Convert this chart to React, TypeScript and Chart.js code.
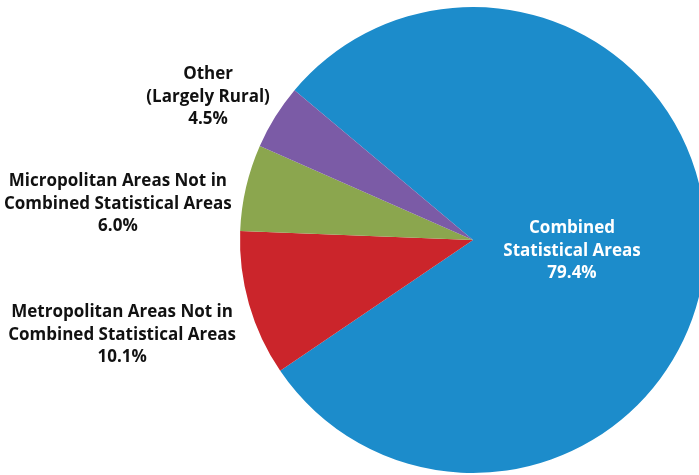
import React, { useEffect, useRef } from "react";
import { Chart, registerables } from "chart.js";

Chart.register(...registerables);

const categories = [
  "Combined Statistical Areas",
  "Metropolitan Areas Not in Combined Statistical Areas",
  "Micropolitan Areas Not in Combined Statistical Areas",
  "Other (Largely Rural)",
];
const shares = [79.4, 10.1, 6.0, 4.5];
const colors = ["#1C8CCB", "#CB252B", "#8BA64E", "#7B5BA6"];

const labelLines: string[][] = [
  ["Combined", "Statistical Areas", "79.4%"],
  ["Metropolitan Areas Not in", "Combined Statistical Areas", "10.1%"],
  ["Micropolitan Areas Not in", "Combined Statistical Areas", "6.0%"],
  ["Other", "(Largely Rural)", "4.5%"],
];
// label centre offsets relative to pie centre, in units of radius
const labelOffsets: [number, number][] = [
  [0.425, 0.047],
  [-1.506, 0.408],
  [-1.524, -0.155],
  [-1.137, -0.614],
];
const labelColors = ["#ffffff", "#111111", "#111111", "#111111"];

const labelPlugin = {
  id: "sliceLabels",
  afterDatasetsDraw(chart: any) {
    const meta = chart.getDatasetMeta(0);
    const arc = meta.data[0];
    if (!arc) return;
    const cx = arc.x;
    const cy = arc.y;
    const r = arc.outerRadius;
    const ctx = chart.ctx;
    ctx.save();
    ctx.font = "bold 17px 'Open Sans', sans-serif";
    ctx.textAlign = "center";
    ctx.textBaseline = "middle";
    const lh = 22.5;
    labelLines.forEach((lines, i) => {
      const x = cx + labelOffsets[i][0] * r;
      const y = cy + labelOffsets[i][1] * r;
      ctx.fillStyle = labelColors[i];
      lines.forEach((t, j) => {
        ctx.fillText(t, x, y + (j - (lines.length - 1) / 2) * lh);
      });
    });
    ctx.restore();
  },
};

export default function App() {
  const ref = useRef<HTMLCanvasElement | null>(null);
  useEffect(() => {
    if (!ref.current) return;
    const chart = new Chart(ref.current, {
      type: "pie",
      data: {
        labels: categories,
        datasets: [
          {
            data: shares,
            backgroundColor: colors,
            borderWidth: 0,
            hoverOffset: 0,
          },
        ],
      },
      options: {
        responsive: false,
        animation: false,
        rotation: -50,
        layout: { padding: { left: 240, right: 14, top: 7, bottom: 7 } },
        plugins: {
          legend: { display: false },
          tooltip: { enabled: false },
          title: { display: false },
        },
      },
      plugins: [labelPlugin],
    });
    return () => chart.destroy();
  }, []);
  return (
    <div
      style={{
        position: "fixed",
        left: 0,
        top: 0,
        width: 699,
        height: 475,
        overflow: "hidden",
        background: "#ffffff",
      }}
    >
      <canvas ref={ref} width={720} height={480} style={{ width: 720, height: 480 }} />
    </div>
  );
}
